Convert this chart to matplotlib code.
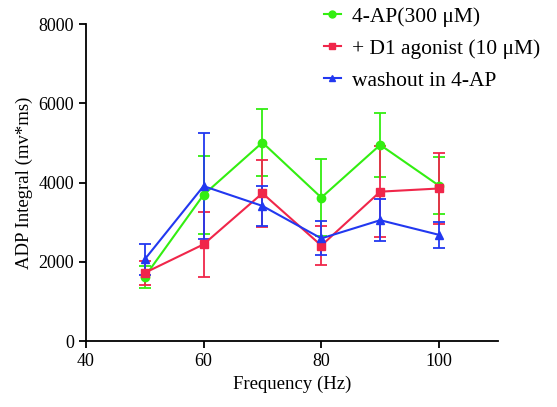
import matplotlib
matplotlib.use('Agg')
import matplotlib.pyplot as plt
from matplotlib.lines import Line2D
import numpy as np

# Frequencies (Hz)
freq = [50, 60, 70, 80, 90, 100]

# 4-AP (300 uM)
ap_mean = [1620, 3690, 5010, 3620, 4950, 3920]
ap_err = [270, 980, 840, 980, 810, 720]

# + D1 agonist (10 uM)
d1_mean = [1720, 2440, 3730, 2410, 3770, 3850]
d1_err = [300, 820, 850, 500, 1150, 900]

# washout in 4-AP
wo_mean = [2060, 3910, 3410, 2590, 3050, 2680]
wo_err = [390, 1330, 500, 430, 530, 330]

plt.rcParams['font.family'] = ['Liberation Serif', 'DejaVu Serif']

fig = plt.figure(figsize=(5.57, 4.07), dpi=100)
ax = fig.add_axes([0.154, 0.162, 0.74, 0.779])

series = [
    (ap_mean, ap_err, '#33ee11', 'o', '4-AP(300 μM)'),
    (d1_mean, d1_err, '#f0264a', 's', '+ D1 agonist (10 μM)'),
    (wo_mean, wo_err, '#2238f0', '^', 'washout in 4-AP'),
]
handles = []
for mean, err, color, marker, label in series:
    ax.errorbar(freq, mean, yerr=err, color=color, marker=marker, markersize=6,
                linewidth=1.5, elinewidth=1.3, capsize=4, capthick=1.3)
    handles.append(Line2D([], [], color=color, marker=marker, markersize=5,
                          linewidth=1.5, label=label))

ax.set_xlim(40, 110)
ax.set_ylim(0, 8000)
ax.set_xticks([40, 60, 80, 100])
ax.set_yticks([0, 2000, 4000, 6000, 8000])
ax.spines['top'].set_visible(False)
ax.spines['right'].set_visible(False)
ax.spines['left'].set_linewidth(1.3)
ax.spines['bottom'].set_linewidth(1.3)
ax.tick_params(direction='out', length=5, width=1.3, labelsize=13)

ax.set_xlabel('Frequency (Hz)', fontsize=13.5)
ax.set_ylabel('ADP Integral (mv*ms)', fontsize=13.5)

ax.legend(handles=handles, loc='upper left', bbox_to_anchor=(0.53, 1.115), frameon=False,
          fontsize=15.5, handlelength=0.8, handletextpad=0.5, labelspacing=0.55)

fig.savefig('out.png', dpi=100)
